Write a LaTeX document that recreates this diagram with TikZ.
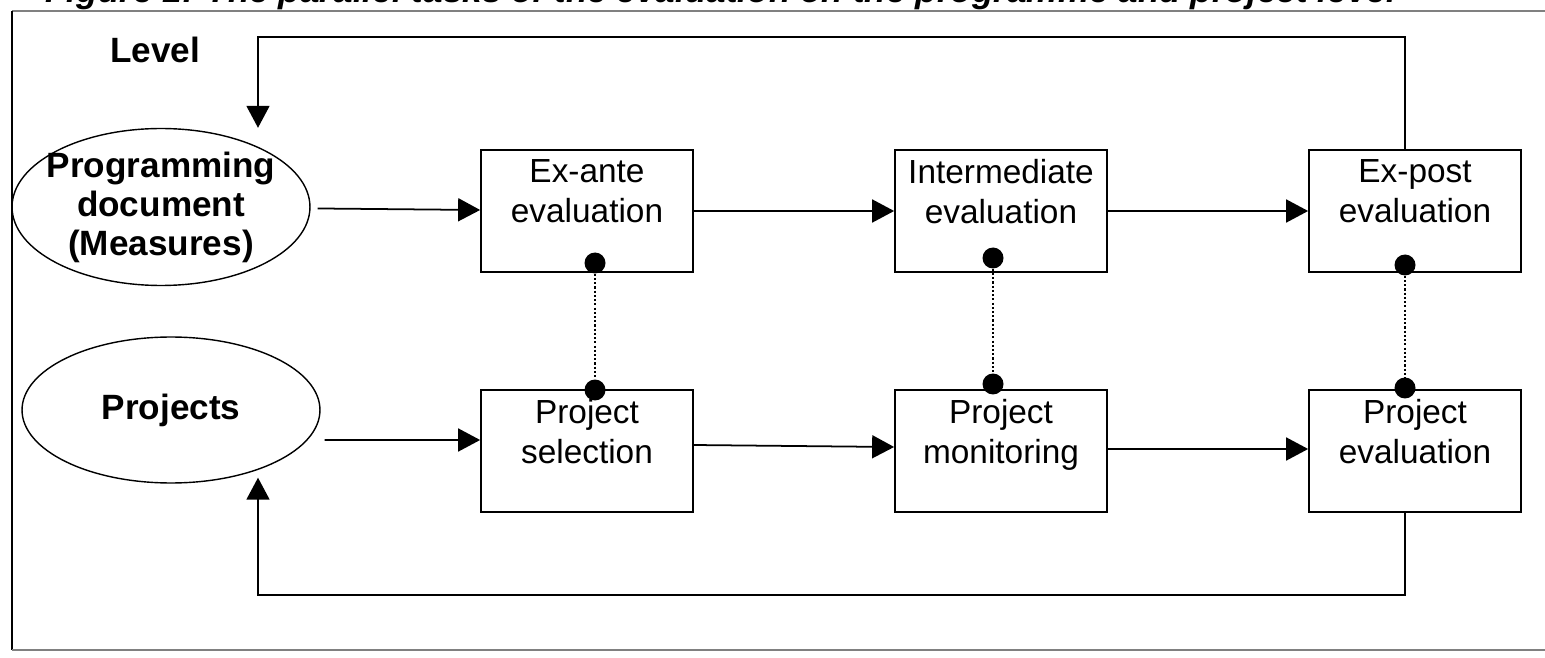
\documentclass[tikz,border=0pt]{standalone}
\usepackage{fontspec}
\setmainfont{Liberation Sans}
\usetikzlibrary{arrows.meta,shapes.geometric,calc}

\begin{document}
\begin{tikzpicture}[x=0.02cm,y=-0.02cm,
  task/.style={draw,line width=1pt,minimum width=4.24cm,minimum height=2.44cm,align=center,inner sep=0pt,font=\fontsize{19}{22.7}\selectfont},
  source/.style={ellipse,draw,line width=0.8pt,minimum width=5.96cm,inner sep=0pt},
  inside/.style={font=\fontsize{20}{22.2}\selectfont\bfseries,align=center,inner sep=0pt},
  flow/.style={draw,line width=1pt,-{Triangle[length=0.44cm,width=0.46cm]}},
  tie/.style={draw,line width=0.8pt,dash pattern=on 1.2pt off 1.2pt},
  knot/.style={circle,fill=black,inner sep=0pt,minimum size=0.42cm}]
\useasboundingbox (0,0) rectangle (1545,658);
% frame and heading
\node[anchor=base west,font=\fontsize{20}{24}\selectfont\bfseries\itshape,inner sep=0pt] (title) at (45,3) {Figure 1: The parallel tasks of the evaluation on the programme and project level};
\path[draw,line width=1.4pt,gray] (12,11) -- (1560,11);
\path[draw,line width=1pt] (12,11) -- (12,650);
\path[draw,line width=1.2pt,gray] (12,650) -- (1560,650);
\node[inside] (level) at (155,50) {Level};
% sources
\node[source,minimum height=3.14cm,label={[inside]center:Programming\\document\\(Measures)}] (prog) at (161,207) {};
\node[source,minimum height=2.92cm,label={[inside]center:Projects}] (proj) at (171,410) {};
% programme level
\node[task] (exante) at (587,211) {Ex-ante\\evaluation\\\mbox{}};
\node[task] (inter) at (1001,211) {Intermediate\\evaluation\\\mbox{}};
\node[task] (expost) at (1415,211) {Ex-post\\evaluation\\\mbox{}};
% project level
\node[task] (select) at (587,451) {Project\\selection\\\mbox{}};
\node[task] (monitor) at (1001,451) {Project\\monitoring\\\mbox{}};
\node[task] (peval) at (1415,451) {Project\\evaluation\\\mbox{}};
% links between levels
\node[knot] (k1) at (595,263) {};
\node[knot] (k2) at (595,390) {};
\node[knot] (k3) at (993,258) {};
\node[knot] (k4) at (993,384) {};
\node[knot] (k5) at (1405,265) {};
\node[knot] (k6) at (1405,388) {};
\path[tie] (k1) -- (k2);
\path[tie] (k3) -- (k4);
\path[tie] (k5) -- (k6);
% flows
\path[flow,shorten <=4pt] (prog) -- (exante);
\path[flow] (exante) -- (inter);
\path[flow] (inter) -- (expost);
\path[flow] ($(proj.east)+(4,30)$) -- ([yshift=0.22cm]select.west);
\path[flow] ([yshift=0.12cm]select.east) -- ([yshift=0.08cm]monitor.west);
\path[flow] ([yshift=0.04cm]monitor.east) -- ([yshift=0.04cm]peval.west);
% feedback loops
\coordinate (topR) at (1405,37);
\coordinate (topL) at (258,37);
\coordinate (botR) at (1405,595);
\coordinate (botL) at (258,595);
\path[flow] (expost.north -| topR) -- (topR) -- (topL) -- (topL |- prog.north);
\path[flow] (peval.south -| botR) -- (botR) -- (botL) -- ($(botL |- proj.south)+(0,-6)$);
\end{tikzpicture}
\end{document}
